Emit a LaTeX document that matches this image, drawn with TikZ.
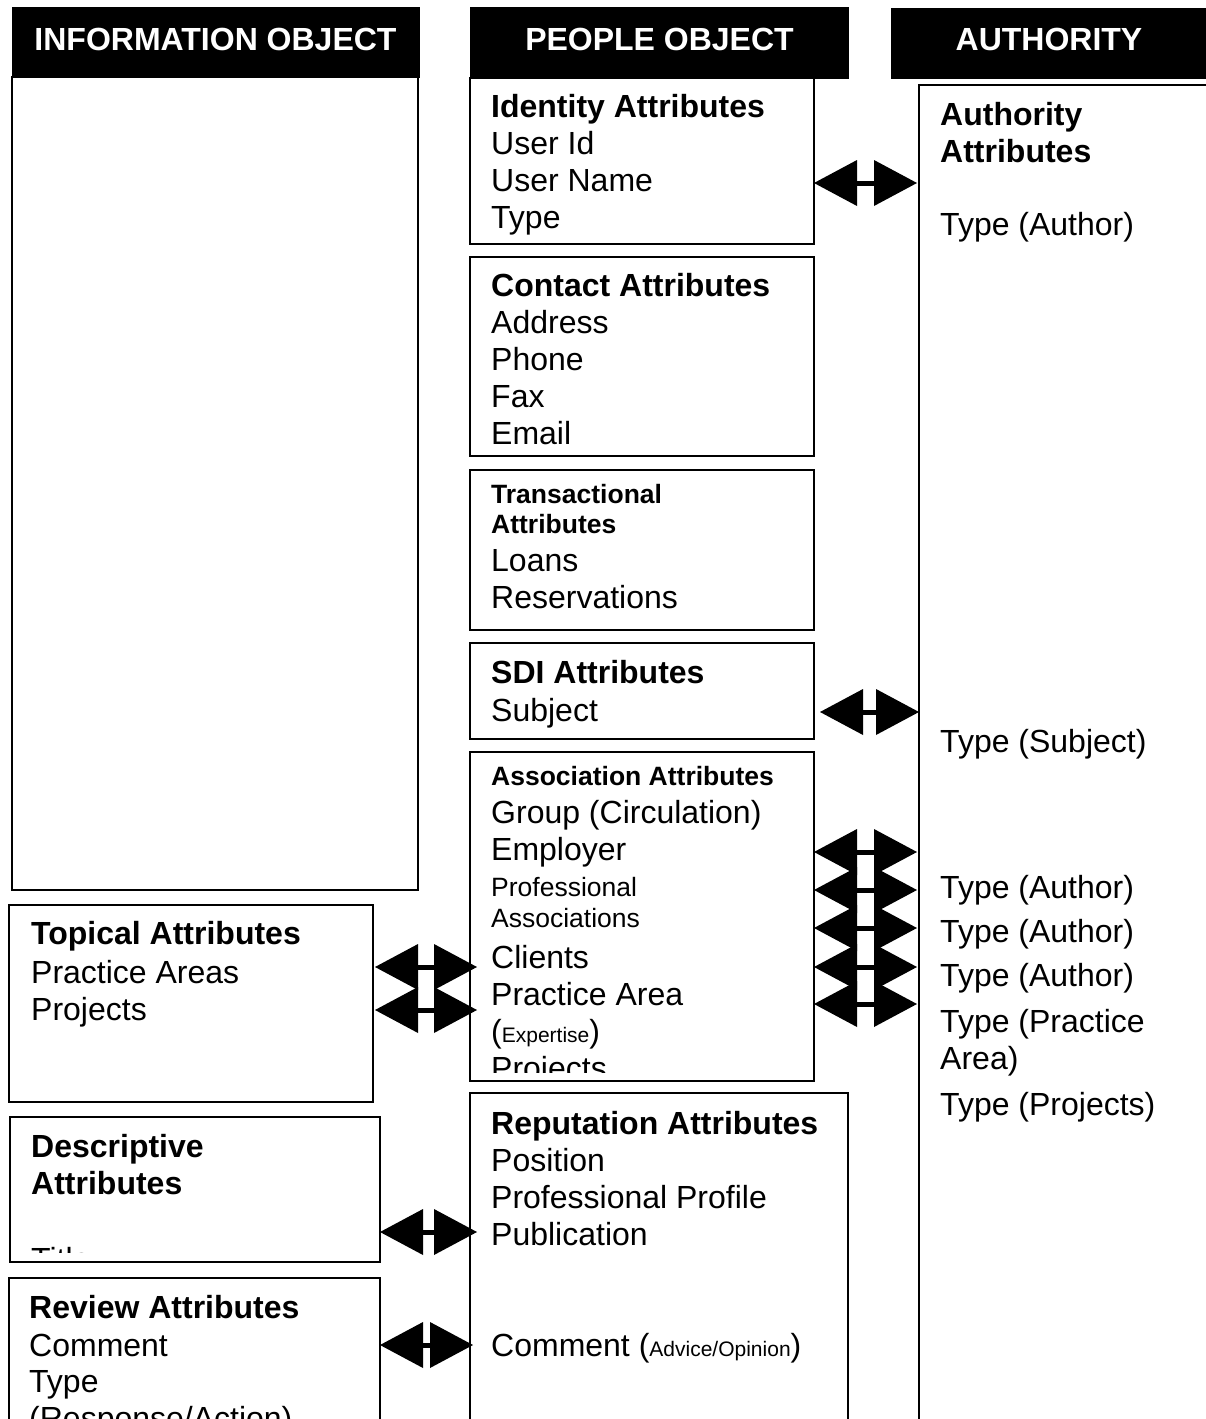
\documentclass[tikz,border=0pt]{standalone}
\usepackage{fontspec}
\setmainfont{Liberation Sans}
\usetikzlibrary{arrows.meta,calc}

% One line of box text; the optional argument is the baseline skip from the line above.
\newcommand\txtline[2][36.8]{{\fontsize{32}{#1}\selectfont\spaceskip=0pt\xspaceskip=0pt #2\par}}
\newcommand\boldline[2][36.8]{{\fontsize{32}{#1}\selectfont\bfseries\spaceskip=0pt\xspaceskip=0pt #2\par}}
\newcommand\smallbold[2][30]{{\fontsize{26.5}{#1}\selectfont\bfseries\spaceskip=0pt\xspaceskip=0pt #2\par}}
\newcommand\smalltxt[2][31]{{\fontsize{26.5}{#1}\selectfont\spaceskip=0pt\xspaceskip=0pt #2\par}}
\newcommand\minor[1]{{\fontsize{21}{21}\selectfont #1}}

\tikzset{
  box/.style={draw, line width=1.8pt, anchor=north west, inner sep=0pt, outer sep=0pt},
  headbox/.style={fill=black, draw=black, line width=1pt, anchor=north west, inner sep=0pt, outer sep=0pt},
  headtext/.style={text=white, font=\fontsize{32}{36}\selectfont\bfseries, inner sep=0pt},
  boxtext/.style={anchor=base west, inner sep=0pt, text width=#1},
  boxtext/.default=330pt,
  dbl/.style={line width=5pt,
    {Triangle[length=43pt,width=46pt,line width=0pt]}-{Triangle[length=43pt,width=46pt,line width=0pt]}}
}

\begin{document}
\begin{tikzpicture}[x=1pt,y=-1pt]
\useasboundingbox (0,0) rectangle (1206,1419);
\fill[white] (0,0) rectangle (1206,1419);
\clip (0,0) rectangle (1206,1419);

% column headers
\node[headbox, minimum width=407pt, minimum height=70pt] (infohead) at (12,7) {};
\node[headbox, minimum width=378pt, minimum height=71pt] (peoplehead) at (470,7) {};
\node[headbox, minimum width=316pt, minimum height=70pt] (authhead) at (891,8) {};
\node[headtext] (infolabel) at (215.5,39) {INFORMATION OBJECT};
\node[headtext] (peoplelabel) at (659.5,39) {PEOPLE OBJECT};
\node[headtext] (authlabel) at (1049,39) {AUTHORITY};

% information object column
\node[box, minimum width=406pt, minimum height=813pt] (infobody) at (12,77) {};
\node[box, minimum width=364pt, minimum height=197pt] (topical) at (9,905) {};
\node[box, minimum width=370pt, minimum height=145pt] (descr) at (10,1117) {};
\node[box, minimum width=371pt, minimum height=170pt] (review) at (9,1278) {};

% people object column
\node[box, minimum width=344pt, minimum height=166pt] (identity) at (470,78) {};
\node[box, minimum width=344pt, minimum height=199pt] (contact) at (470,257) {};
\node[box, minimum width=344pt, minimum height=160pt] (trans) at (470,470) {};
\node[box, minimum width=344pt, minimum height=96pt] (sdi) at (470,643) {};
\node[box, minimum width=344pt, minimum height=329pt] (assoc) at (470,752) {};
\node[box, minimum width=378pt, minimum height=360pt] (reput) at (470,1093) {};

% authority column
\node[box, minimum width=300pt, minimum height=1380pt] (authbody) at (919,85) {};

% box contents
\node[boxtext] (topicaltext) at (31,944.5) {%
  \boldline{Topical Attributes}\txtline[39]{Practice Areas}\txtline[37]{Projects}};
\begin{scope}
  \clip (10,1117) rectangle (380,1252);
  \node[boxtext] (descrtext) at (31,1157.5) {%
    \boldline{Descriptive}\boldline[37]{Attributes}\txtline[75.5]{Title}};
\end{scope}
\node[boxtext] (reviewtext) at (29,1318.5) {%
  \boldline{Review Attributes}\txtline[37.5]{Comment}\txtline[36.5]{Type}%
  \txtline[36.5]{(Response/Action)}};

\node[boxtext] (identitytext) at (491,117.5) {%
  \boldline{Identity Attributes}\txtline[37]{User Id}\txtline[37]{User Name}\txtline[37]{Type}};
\node[boxtext] (contacttext) at (491,296.5) {%
  \boldline{Contact Attributes}\txtline[37]{Address}\txtline[37]{Phone}%
  \txtline[37]{Fax}\txtline[37]{Email}};
\node[boxtext] (transtext) at (491,503.5) {%
  \smallbold{Transactional}\smallbold[30]{Attributes}\txtline[38]{Loans}%
  \txtline[36.5]{Reservations}};
\node[boxtext] (sditext) at (491,683.5) {%
  \boldline{SDI Attributes}\txtline[38]{Subject}};
\begin{scope}
  \clip (470,752) rectangle (814,1072);
  \node[boxtext] (assoctext) at (491,785.5) {%
    \smallbold{Association Attributes}%
    \txtline[38]{Group (Circulation)}%
    \txtline[37]{Employer}%
    \smalltxt[36]{Professional}%
    \smalltxt[31]{Associations}%
    \txtline[41]{Clients}%
    \txtline[37]{Practice Area}%
    \txtline[37]{(\minor{Expertise})}%
    \txtline[37]{Projects}};
\end{scope}
\node[boxtext=350pt] (reputtext) at (491,1134.5) {%
  \boldline{Reputation Attributes}\txtline[37]{Position}\txtline[37]{Professional Profile}%
  \txtline[37]{Publication}\txtline[111]{Comment (\minor{Advice/Opinion})}};

\node[boxtext=260pt] (authtext) at (940,125.5) {%
  \boldline{Authority}\boldline[37]{Attributes}%
  \txtline[73]{Type (Author)}%
  \txtline[517]{Type (Subject)}%
  \txtline[146]{Type (Author)}%
  \txtline[44]{Type (Author)}%
  \txtline[44]{Type (Author)}%
  \txtline[46]{Type (Practice}%
  \txtline[37]{Area)}%
  \txtline[46]{Type (Projects)}};

% links between the columns
\draw[dbl] (identity.east |- 0,183) -- ($(authbody.west |- 0,183)+(-2,0)$);
\draw[dbl] ($(sdi.east |- 0,712)+(6,0)$) -- (authbody.west |- 0,712);
\foreach \y in {852,890,928,967,1004}
  \draw[dbl] (assoc.east |- 0,\y) -- ($(authbody.west |- 0,\y)+(-2,0)$);
\foreach \y in {967,1010}
  \draw[dbl] ($(topical.east |- 0,\y)+(2,0)$) -- ($(assoc.west |- 0,\y)+(7,0)$);
\draw[dbl] (descr.east |- 0,1232) -- ($(reput.west |- 0,1232)+(7,0)$);
\draw[dbl] (review.east |- 0,1345) -- ($(reput.west |- 0,1345)+(3,0)$);
\end{tikzpicture}
\end{document}
